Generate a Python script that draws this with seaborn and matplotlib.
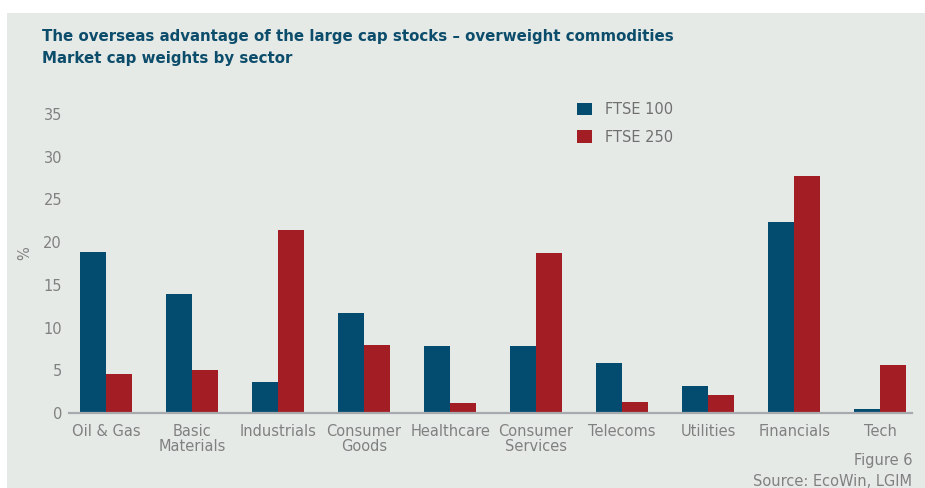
import matplotlib
matplotlib.use("Agg")
import matplotlib.pyplot as plt
import seaborn as sns
import pandas as pd
from matplotlib.patches import Rectangle

sectors = ["Oil & Gas", "Basic\nMaterials", "Industrials", "Consumer\nGoods", "Healthcare",
           "Consumer\nServices", "Telecoms", "Utilities", "Financials", "Tech"]
ftse100 = [18.8, 13.9, 3.6, 11.7, 7.8, 7.8, 5.8, 3.2, 22.3, 0.5]
ftse250 = [4.6, 5.0, 21.4, 8.0, 1.2, 18.7, 1.3, 2.1, 27.8, 5.6]
series_names = ["FTSE 100", "FTSE 250"]
yticks = [0, 5, 10, 15, 20, 25, 30, 35]

df = pd.DataFrame({
    "Sector": sectors * 2,
    "Value": ftse100 + ftse250,
    "Index": [series_names[0]] * len(sectors) + [series_names[1]] * len(sectors),
})

sns.set_theme(style="white")
plt.rcParams["font.family"] = ["DejaVu Sans"]

BG = "#e6eae7"
BLUE = "#034c70"
RED = "#a31d24"
TITLE = "#0d4d6c"
GREY = "#808080"

fig = plt.figure(figsize=(9.25, 4.88), dpi=100)
fig.patch.set_facecolor("white")
bgrect = Rectangle((7 / 925, 0), 1, 1 - 13 / 488, transform=fig.transFigure,
                   facecolor=BG, edgecolor="none", zorder=-10)
fig.patches.append(bgrect)

ax = fig.add_axes([69 / 925, 1 - 413 / 488, (912 - 69) / 925, 299 / 488])
ax.set_zorder(5)
ax.set_facecolor(BG)
ax.patch.set_alpha(0)
sns.barplot(data=df, x="Sector", y="Value", hue="Index", palette=[BLUE, RED],
            width=0.6, gap=0, ax=ax, saturation=1, legend=True, linewidth=0)

ax.set_ylim(0, 35)
ax.set_xlim(-0.43, 9.37)
ax.set_yticks(yticks)
ax.set_yticklabels([str(t) for t in yticks])
ax.tick_params(axis="both", colors=GREY, labelsize=10.5, length=0)
ax.tick_params(axis="y", pad=5)
ax.tick_params(axis="x", pad=8)
for lab in ax.get_xticklabels() + ax.get_yticklabels():
    lab.set_color(GREY)
for lab in ax.get_xticklabels():
    lab.set_linespacing(1.0)
for s in ["top", "right", "left"]:
    ax.spines[s].set_visible(False)
ax.spines["bottom"].set_color("#a7aaac")
ax.spines["bottom"].set_linewidth(1.6)
ax.set_xlabel("")
ax.set_ylabel("")

fig.text(25 / 925, 1 - 253 / 488, "%", rotation=90, color=GREY, fontsize=10.5,
         ha="center", va="center")

leg = ax.legend(loc="upper left", bbox_to_anchor=(564 / 925, 1 - 89 / 488),
                bbox_transform=fig.transFigure, frameon=False, fontsize=10.5,
                handlelength=1.0, handleheight=0.9, labelspacing=0.85, handletextpad=0.9)
for t in leg.get_texts():
    t.set_color("#707070")

fig.text(42 / 925, 1 - 37 / 488, "The overseas advantage of the large cap stocks \u2013 overweight commodities",
         color=TITLE, fontsize=10.8, fontweight="bold", ha="left", va="center")
fig.text(42 / 925, 1 - 59 / 488, "Market cap weights by sector",
         color=TITLE, fontsize=10.8, fontweight="bold", ha="left", va="center")

fig.text(912 / 925, 1 - 460 / 488, "Figure 6", color=GREY, fontsize=10.5, ha="right", va="center")
fig.text(912 / 925, 1 - 481 / 488, "Source: EcoWin, LGIM", color=GREY, fontsize=10.5,
         ha="right", va="center")

fig.savefig("out.png", dpi=100, facecolor=fig.get_facecolor())
